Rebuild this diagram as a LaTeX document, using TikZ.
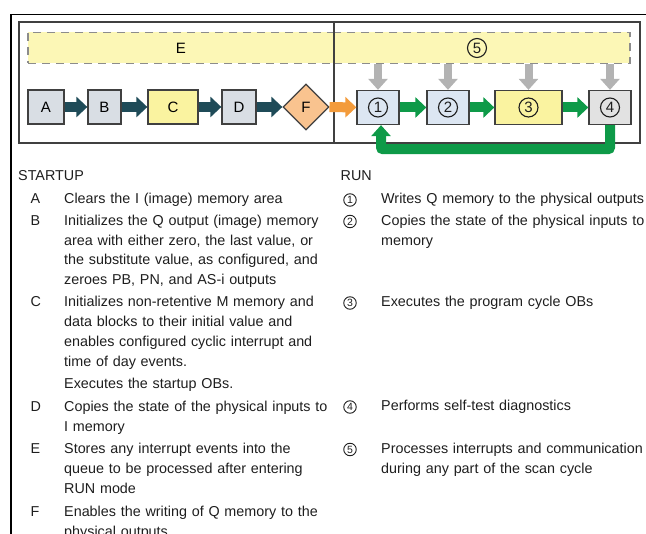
\documentclass[tikz,border=0pt]{standalone}
\usepackage{fontspec}
\setmainfont{Liberation Sans}
\usepackage{xcolor}
\usetikzlibrary{shapes.geometric, arrows.meta}

\definecolor{boxgray}{HTML}{D9DEE4}
\definecolor{boxblue}{HTML}{DCE6F2}
\definecolor{boxlight}{HTML}{E2E2E2}
\definecolor{boxyellow}{HTML}{FAF3A0}
\definecolor{bandyellow}{HTML}{FCF7B6}
\definecolor{boxorange}{HTML}{F9C38F}
\definecolor{arrowteal}{HTML}{1F4B58}
\definecolor{arroworange}{HTML}{F39B3B}
\definecolor{arrowgreen}{HTML}{0E9A48}
\definecolor{arrowgray}{HTML}{B3B3B3}
\definecolor{dashgray}{HTML}{8C8C8C}
\definecolor{edgegray}{HTML}{404040}
\definecolor{textgray}{HTML}{1E1E1E}

\begin{document}
\begin{tikzpicture}[x=1pt, y=-1pt,
    stage/.style={draw=edgegray, line width=1.3pt, minimum height=34pt, inner sep=0pt, font=\fontsize{15}{15}\selectfont},
    ring/.style={circle, draw=textgray, line width=1.1pt, minimum size=19pt, inner sep=0pt, font=\fontsize{15}{15}\selectfont, text=textgray},
    smallring/.style={ring, line width=0.9pt, minimum size=12.5pt, font=\fontsize{10.5}{10.5}\selectfont},
    flow/.style={line width=10pt, -{Triangle[length=11pt, width=20pt]}},
    feed/.style={arrowgray, line width=8pt, -{Triangle[length=11pt, width=19pt]}},
    band/.style={draw=dashgray, fill=bandyellow, dash pattern=on 8pt off 6pt, line width=1.7pt, minimum height=31pt, inner sep=0pt, font=\fontsize{15}{15}\selectfont},
    body/.style={anchor=base west, inner sep=0pt, text width=285pt, align=left, font=\fontsize{14.35}{19.7}\selectfont, text=textgray},
    tag/.style={anchor=base west, inner sep=0pt, font=\fontsize{14.35}{19.7}\selectfont, text=textgray}]

    \useasboundingbox (0,0) rectangle (646,534);
    \clip (0,0) rectangle (646,534);

    % Frames
    \draw[line width=1.6pt] (11,534) -- (11,14.5) -- (646,14.5);
    \draw[edgegray, line width=1.2pt] (19,22) rectangle (640,143);

    % Interrupt bands
    \node[band, minimum width=306pt] (bandE) at (181,48) {E};
    \node[band, minimum width=296pt] (bandRun) at (482,48) {};
    \node[ring] (five) at (477,48) {5};
    \draw[edgegray, line width=1.2pt] (334,22) -- (334,143);

    % Startup stages
    \node[stage, fill=boxgray, minimum width=36pt] (A) at (46,107) {A};
    \node[stage, fill=boxgray, minimum width=33pt] (B) at (104.5,107) {B};
    \node[stage, fill=boxyellow, minimum width=50pt] (C) at (173,107) {C};
    \node[stage, fill=boxgray, minimum width=34pt] (D) at (239,107) {D};
    \node[stage, diamond, fill=boxorange, minimum width=46pt, minimum height=46pt] (F) at (306,107) {F};

    % Run stages
    \node[stage, fill=boxblue, minimum width=42pt] (one) at (378,107.5) {};
    \node[stage, fill=boxblue, minimum width=42pt] (two) at (448,107.5) {};
    \node[stage, fill=boxyellow, minimum width=67pt] (three) at (528.5,107.5) {};
    \node[stage, fill=boxlight, minimum width=42pt] (four) at (610,107.5) {};
    \node[ring] (r1) at (one) {1};
    \node[ring] (r2) at (two) {2};
    \node[ring] (r3) at (three) {3};
    \node[ring] (r4) at (four) {4};

    \draw[flow, arrowteal] (A) -- (B);
    \draw[flow, arrowteal] (B) -- (C);
    \draw[flow, arrowteal] (C) -- (D);
    \draw[flow, arrowteal] (D) -- (F);
    \draw[flow, arroworange] (F) -- (one);
    \draw[flow, arrowgreen] (one) -- (two);
    \draw[flow, arrowgreen] (two) -- (three);
    \draw[flow, arrowgreen] (three) -- (four);
    \foreach \n in {one,two,three,four}
        \draw[feed] (\n |- bandRun.south) -- (\n);
    \draw[arrowgreen, line width=10pt, rounded corners=2pt, -{Triangle[length=11pt, width=19pt]}]
        (four.south) -- ++(0,24) -| ([xshift=3pt]one.south);

    % Startup legend
    \node[tag] (startup) at (18,180.7) {STARTUP};
    \node[tag] (la) at (30.5,204) {A};
    \node[body] (ta) at (64,204) {Clears the I (image) memory area};
    \node[tag] (lb) at (30.5,225.5) {B};
    \node[body] (tb) at (64,225.5) {Initializes the Q output (image) memory\\area with either zero, the last value, or\\the substitute value, as configured, and\\zeroes PB, PN, and AS-i outputs};
    \node[tag] (lc) at (30.5,307) {C};
    \node[body] (tc) at (64,307) {Initializes non-retentive M memory and\\data blocks to their initial value and\\enables configured cyclic interrupt and\\time of day events.};
    \node[body] (tx) at (64,388.5) {Executes the startup OBs.};
    \node[tag] (ld) at (30.5,412) {D};
    \node[body] (td) at (64,412) {Copies the state of the physical inputs to\\I memory};
    \node[tag] (le) at (30.5,454) {E};
    \node[body] (te) at (64,454) {Stores any interrupt events into the\\queue to be processed after entering\\RUN mode};
    \node[tag] (lf) at (30.5,517) {F};
    \node[body] (tf) at (64,517) {Enables the writing of Q memory to the\\physical outputs};

    % Run legend
    \node[tag] (run) at (340.5,180.7) {RUN};
    \node[smallring] (l1) at (350,200) {1};
    \node[body] (t1) at (381,204) {Writes Q memory to the physical outputs};
    \node[smallring] (l2) at (350,221.5) {2};
    \node[body] (t2) at (381,225.5) {Copies the state of the physical inputs to\\memory};
    \node[smallring] (l3) at (350,303) {3};
    \node[body] (t3) at (381,307) {Executes the program cycle OBs};
    \node[smallring] (l4) at (350,407) {4};
    \node[body] (t4) at (381,411) {Performs self-test diagnostics};
    \node[smallring] (l5) at (350,449.5) {5};
    \node[body] (t5) at (381,453.5) {Processes interrupts and communication\\during any part of the scan cycle};
\end{tikzpicture}
\end{document}
